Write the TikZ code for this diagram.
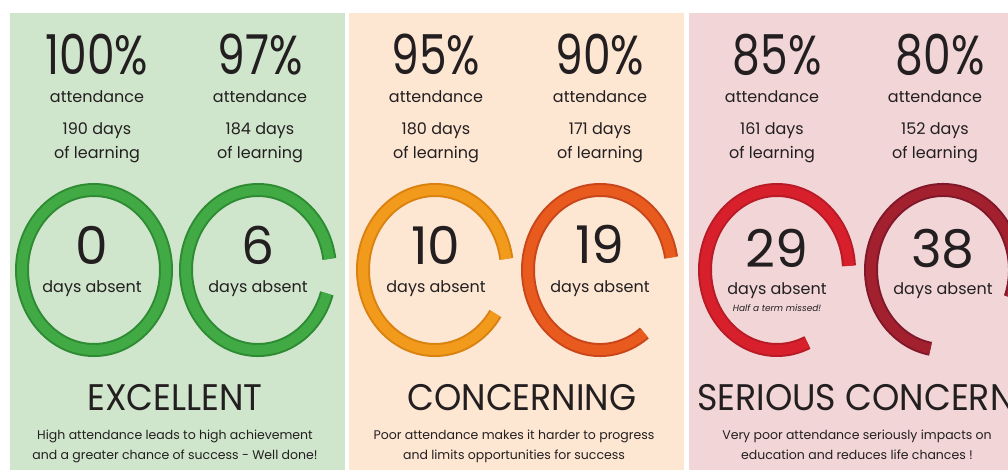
\documentclass[tikz,border=0pt]{standalone}
\usepackage{fontspec}
\setmainfont{Poppins}
\newfontfamily\narrowpop[FakeStretch=0.8]{Poppins}
\newfontfamily\titlepop[FakeStretch=0.94]{Poppins}
\definecolor{pgreen}{HTML}{CFE6CC}
\definecolor{ppeach}{HTML}{FDE6D2}
\definecolor{ppink}{HTML}{F1D5D7}
\definecolor{txt}{HTML}{231F20}
\definecolor{g1d}{HTML}{2E8B34}\definecolor{g1}{HTML}{41AA44}
\definecolor{o1d}{HTML}{D9820F}\definecolor{o1}{HTML}{F29A1C}
\definecolor{o2d}{HTML}{C9461A}\definecolor{o2}{HTML}{E85A1D}
\definecolor{r1d}{HTML}{B81B26}\definecolor{r1}{HTML}{D8202D}
\definecolor{r2d}{HTML}{80182A}\definecolor{r2}{HTML}{A3202F}
\tikzset{
  pct/.style={font=\narrowpop\fontsize{55}{55}\selectfont, anchor=base, inner sep=0pt, text=txt},
  lbl/.style={font=\fontsize{16}{16}\selectfont, anchor=base, inner sep=0pt, text=txt},
  bignum/.style={font=\fontsize{52}{52}\selectfont, anchor=base, inner sep=0pt, text=txt},
  note/.style={font=\fontsize{9}{9}\itshape\selectfont, anchor=base, inner sep=0pt, text=txt},
  ttl/.style={font=\titlepop\fontsize{37}{37}\selectfont, anchor=base, inner sep=0pt, text=txt},
  desc/.style={font=\fontsize{12.5}{12.5}\selectfont, anchor=base, inner sep=0pt, text=txt},
  ringout/.style={line width=14pt},
  ringin/.style={line width=10pt},
}
\newcommand{\ringarc}[5]{% center, start, end, dark, main
  \draw[ringout,#4] (#1) ++(#2:72pt and 80pt) arc[start angle=#2, end angle=#3, x radius=72pt, y radius=80pt];
  \draw[ringin,#5] (#1) ++(#2:72pt and 80pt) arc[start angle=#2, end angle=#3, x radius=72pt, y radius=80pt];
}
\begin{document}
\begin{tikzpicture}[x=1pt,y=1pt]
\useasboundingbox (0,0) rectangle (1008,-472);
\clip (0,0) rectangle (1008,-472);
\fill[white] (0,0) rectangle (1008,-472);
\fill[pgreen] (10,-13) rectangle (345,-470);
\fill[ppeach] (349,-13) rectangle (684,-470);
\fill[ppink] (689,-13) rectangle (1024,-470);

\coordinate (c1) at (94,-270);
\coordinate (c2) at (258,-270);
\coordinate (c3) at (435,-270);
\coordinate (c4) at (600,-270);
\coordinate (c5) at (777,-270);
\coordinate (c6) at (943,-270);

\draw[ringout,g1d] (c1) ellipse [x radius=72pt, y radius=80pt];
\draw[ringin,g1] (c1) ellipse [x radius=72pt, y radius=80pt];
\ringarc{c2}{8}{343}{g1d}{g1}
\ringarc{c3}{8}{327}{o1d}{o1}
\ringarc{c4}{9}{308}{o2d}{o2}
\ringarc{c5}{3}{295}{r1d}{r1}
\ringarc{c6}{-20}{260}{r2d}{r2}

% column texts
\node[pct] (p1) at (97,-74) {100\%};
\node[pct] (p2) at (260,-74) {97\%};
\node[pct] (p3) at (436,-74) {95\%};
\node[pct] (p4) at (600,-74) {90\%};
\node[pct] (p5) at (777,-74) {85\%};
\node[pct] (p6) at (940,-74) {80\%};

\node[lbl] (a1) at (97,-102) {attendance};
\node[lbl] (a2) at (260,-102) {attendance};
\node[lbl] (a3) at (436,-102) {attendance};
\node[lbl] (a4) at (600,-102) {attendance};
\node[lbl] (a5) at (772,-102) {attendance};
\node[lbl] (a6) at (935,-102) {attendance};

\node[lbl] (d1) at (97,-134) {190 days};
\node[lbl] (d2) at (260,-134) {184 days};
\node[lbl] (d3) at (436,-134) {180 days};
\node[lbl] (d4) at (600,-134) {171 days};
\node[lbl] (d5) at (772,-134) {161 days};
\node[lbl] (d6) at (935,-134) {152 days};

\node[lbl] (l1) at (97,-158) {of learning};
\node[lbl] (l2) at (260,-158) {of learning};
\node[lbl] (l3) at (436,-158) {of learning};
\node[lbl] (l4) at (600,-158) {of learning};
\node[lbl] (l5) at (772,-158) {of learning};
\node[lbl] (l6) at (935,-158) {of learning};

\node[bignum] (n1) at (92,-264) {0};
\node[bignum] (n2) at (258,-264) {6};
\node[bignum] (n3) at (436,-264) {10};
\node[bignum] (n4) at (600,-263) {19};
\node[bignum] (n5) at (777,-267) {29};
\node[bignum] (n6) at (943,-267) {38};

\node[lbl] (b1) at (92,-292) {days absent};
\node[lbl] (b2) at (258,-292) {days absent};
\node[lbl] (b3) at (436,-292) {days absent};
\node[lbl] (b4) at (600,-292) {days absent};
\node[lbl] (b5) at (777,-294) {days absent};
\node[lbl] (b6) at (943,-294) {days absent};
\node[note] (h5) at (777,-311) {Half a term missed!};

% titles
\node[ttl] (t1) at (175,-410) {EXCELLENT};
\node[ttl] (t2) at (522,-410) {CONCERNING};
\node[ttl, anchor=base west] (t3) at (697,-410) {SERIOUS CONCERN};

\node[desc] (e1a) at (175,-439) {High attendance leads to high achievement};
\node[desc] (e1b) at (175,-459) {and a greater chance of success - Well done!};
\node[desc] (e2a) at (514,-439) {Poor attendance makes it harder to progress};
\node[desc] (e2b) at (514,-459) {and limits opportunities for success};
\node[desc] (e3a) at (857,-439) {Very poor attendance seriously impacts on};
\node[desc] (e3b) at (857,-459) {education and reduces life chances !};
\end{tikzpicture}
\end{document}
